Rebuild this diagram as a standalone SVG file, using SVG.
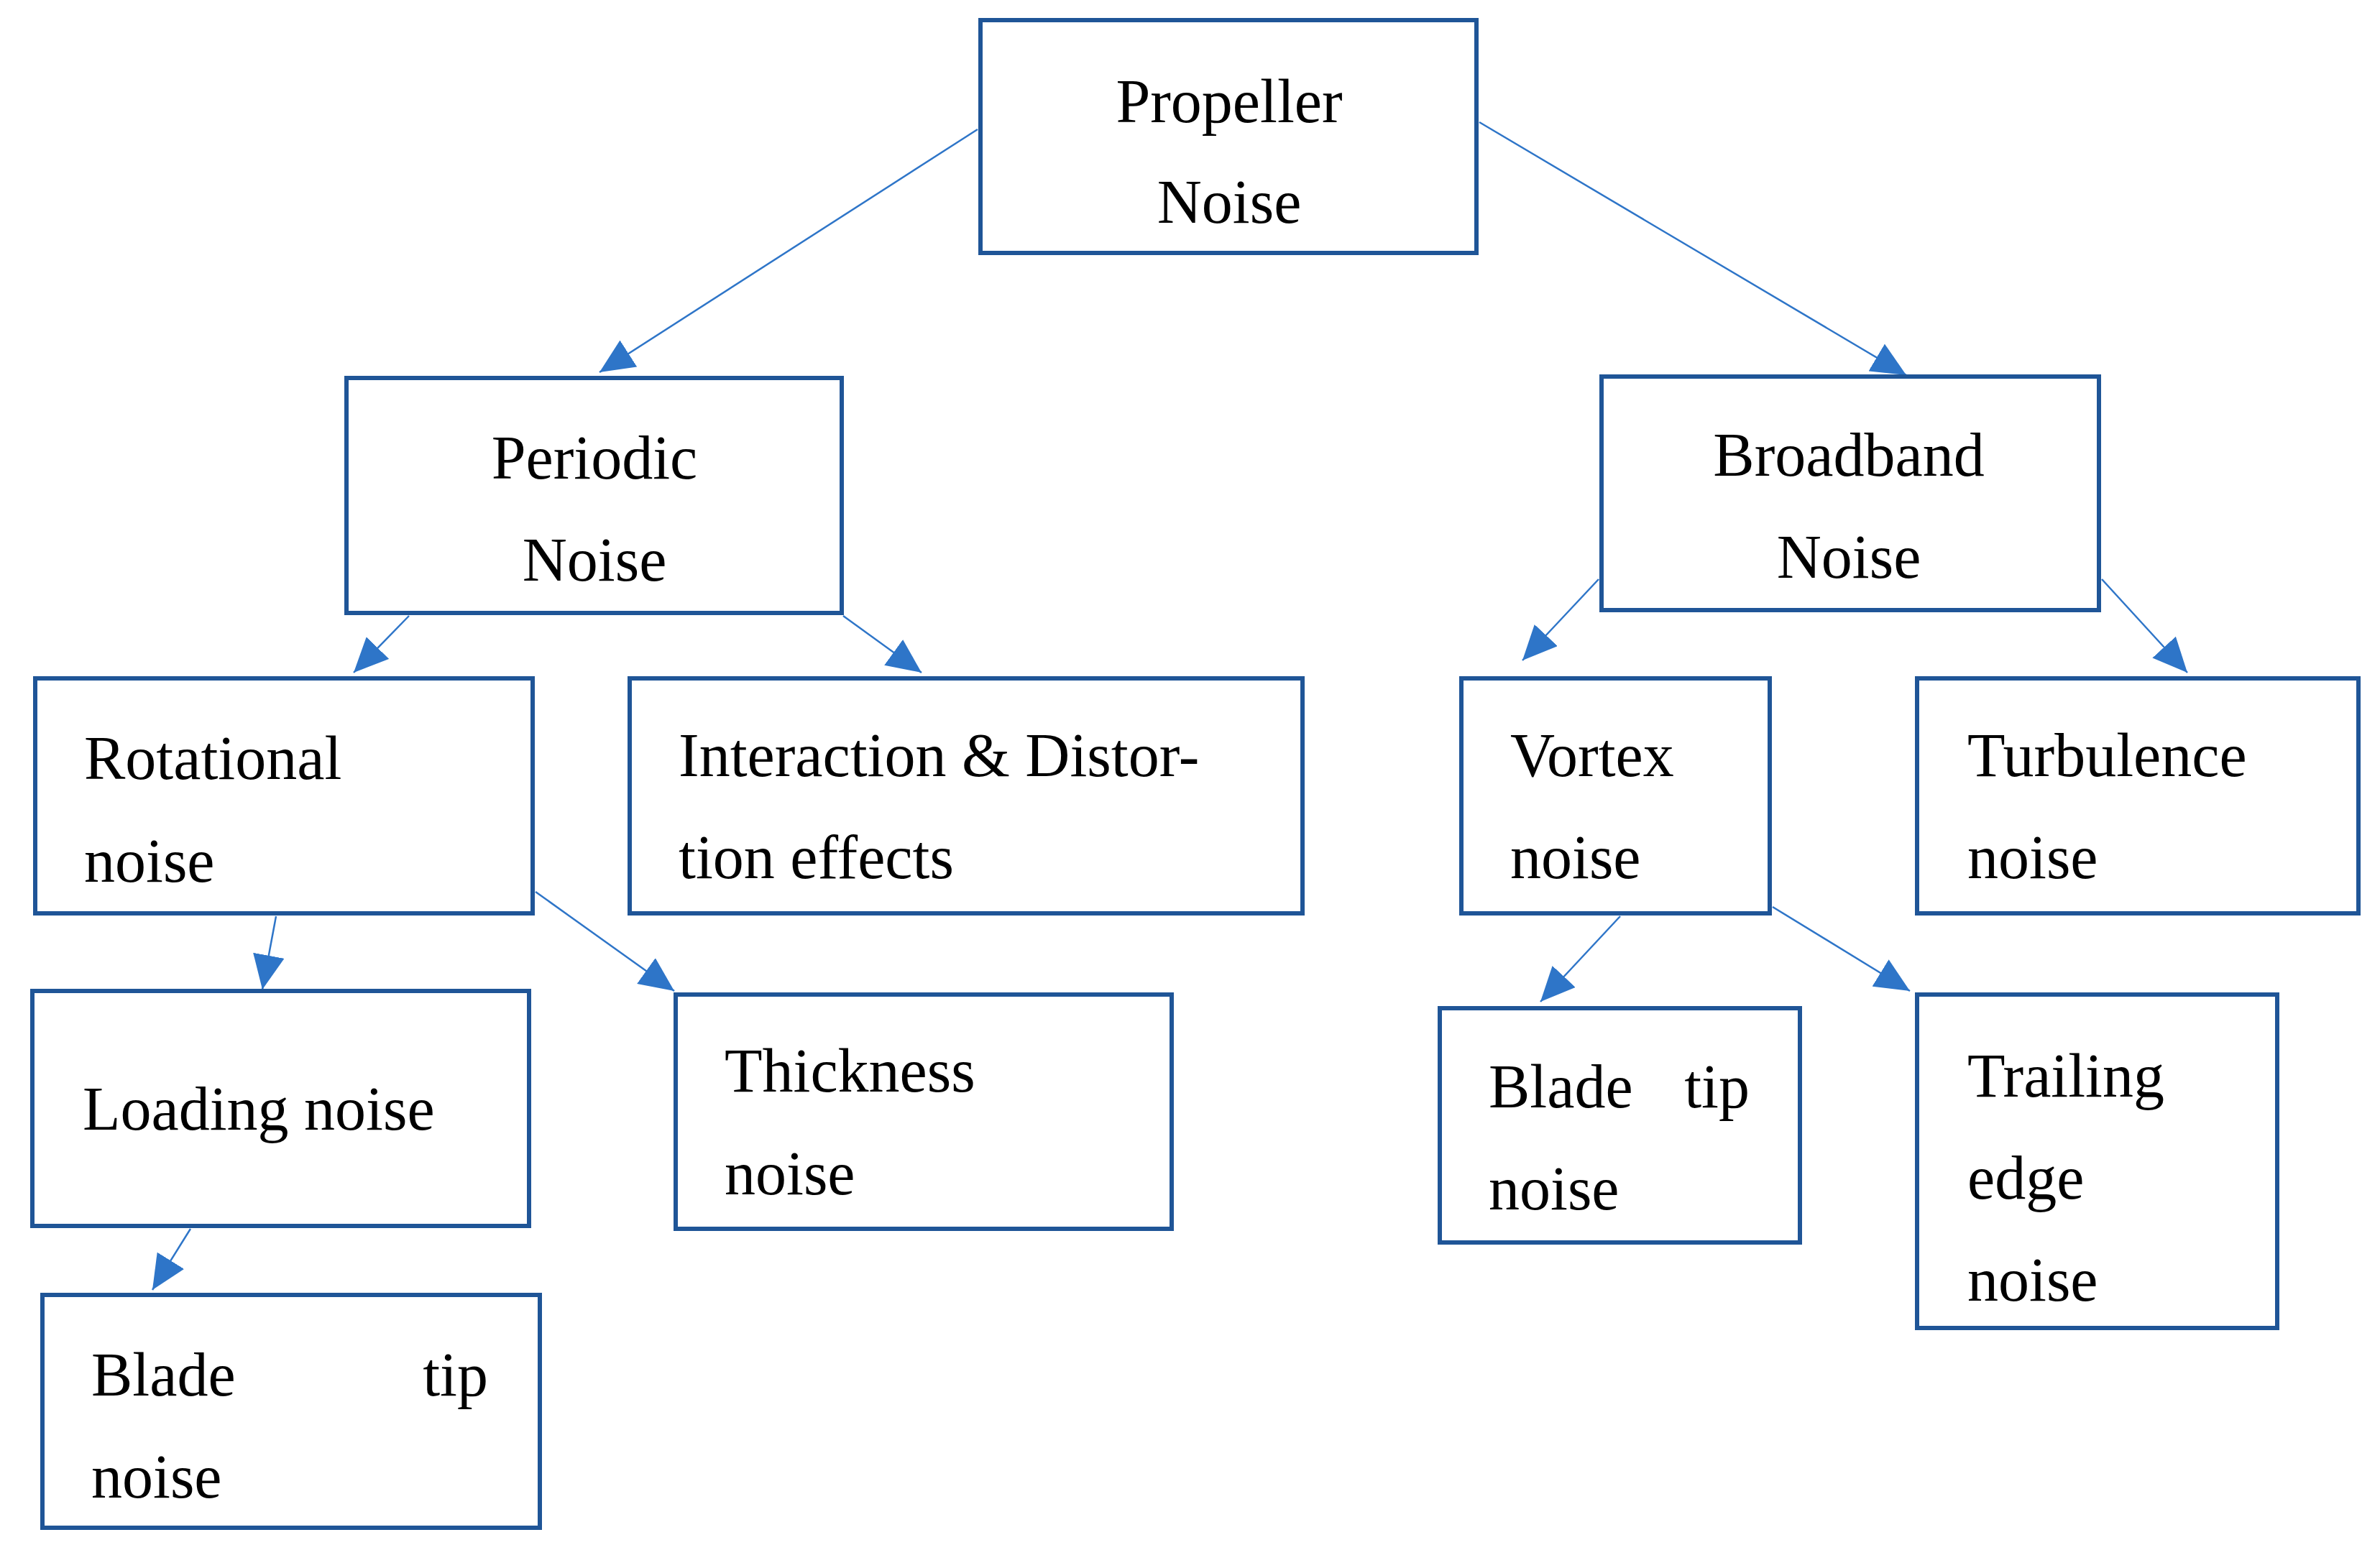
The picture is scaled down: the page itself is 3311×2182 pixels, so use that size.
<svg xmlns="http://www.w3.org/2000/svg" width="3311" height="2182" viewBox="0 0 3311 2182">
<style>
.b{fill:#fff;stroke:#1F5597;stroke-width:6}
text{font-family:"Liberation Serif","DejaVu Serif",serif;font-size:86px;fill:#000}
.c{text-anchor:middle}
.e{text-anchor:end}
.a{stroke:#2E75C8;stroke-width:2.5;fill:none;marker-end:url(#h)}
</style>
<defs><marker id="h" markerUnits="userSpaceOnUse" markerWidth="50" markerHeight="44" refX="48" refY="22" orient="auto"><path d="M0,0L48,22L0,44z" fill="#2E75C8"/></marker></defs>
<g id="connectors">
<line class="a" x1="1360" y1="180" x2="834" y2="518"/>
<line class="a" x1="2058" y1="170" x2="2652" y2="522"/>
<line class="a" x1="569" y1="857" x2="492" y2="936"/>
<line class="a" x1="1173" y1="857" x2="1282" y2="936"/>
<line class="a" x1="2224" y1="806" x2="2118" y2="919"/>
<line class="a" x1="2924" y1="806" x2="3043" y2="936"/>
<line class="a" x1="384" y1="1275" x2="365" y2="1377"/>
<line class="a" x1="745" y1="1241" x2="938" y2="1379"/>
<line class="a" x1="2254" y1="1275" x2="2143" y2="1394"/>
<line class="a" x1="2466" y1="1262" x2="2657" y2="1379"/>
<line class="a" x1="265" y1="1710" x2="212" y2="1795"/>
</g>
<g id="propeller"><rect class="b" x="1364" y="28" width="690" height="324"/><text class="c" x="1710" y="170">Propeller</text><text class="c" x="1710" y="310">Noise</text></g>
<g id="periodic"><rect class="b" x="482" y="526" width="689" height="327"/><text class="c" x="827" y="666">Periodic</text><text class="c" x="827" y="808">Noise</text></g>
<g id="broadband"><rect class="b" x="2228" y="524" width="692" height="325"/><text class="c" x="2572" y="662">Broadband</text><text class="c" x="2572" y="804">Noise</text></g>
<g id="rotational"><rect class="b" x="49" y="944" width="692" height="327"/><text x="117" y="1084">Rotational</text><text x="117" y="1227">noise</text></g>
<g id="interaction"><rect class="b" x="876" y="944" width="936" height="327"/><text x="944" y="1080">Interaction &amp; Distor-</text><text x="944" y="1222">tion effects</text></g>
<g id="vortex"><rect class="b" x="2033" y="944" width="429" height="327"/><text x="2101" y="1080">Vortex</text><text x="2101" y="1222">noise</text></g>
<g id="turbulence"><rect class="b" x="2667" y="944" width="614" height="327"/><text x="2737" y="1080">Turbulence</text><text x="2737" y="1222">noise</text></g>
<g id="loading"><rect class="b" x="45" y="1379" width="691" height="327"/><text x="115" y="1572">Loading noise</text></g>
<g id="thickness"><rect class="b" x="940" y="1384" width="690" height="326"/><text x="1008" y="1519">Thickness</text><text x="1008" y="1662">noise</text></g>
<g id="bladetip2"><rect class="b" x="2003" y="1403" width="501" height="326"/><text x="2071" y="1541">Blade</text><text class="e" x="2434" y="1541">tip</text><text x="2071" y="1683">noise</text></g>
<g id="trailing"><rect class="b" x="2667" y="1384" width="501" height="464"/><text x="2737" y="1526">Trailing</text><text x="2737" y="1668">edge</text><text x="2737" y="1810">noise</text></g>
<g id="bladetip1"><rect class="b" x="59" y="1802" width="692" height="324"/><text x="127" y="1942">Blade</text><text class="e" x="679" y="1942">tip</text><text x="127" y="2084">noise</text></g>
</svg>
